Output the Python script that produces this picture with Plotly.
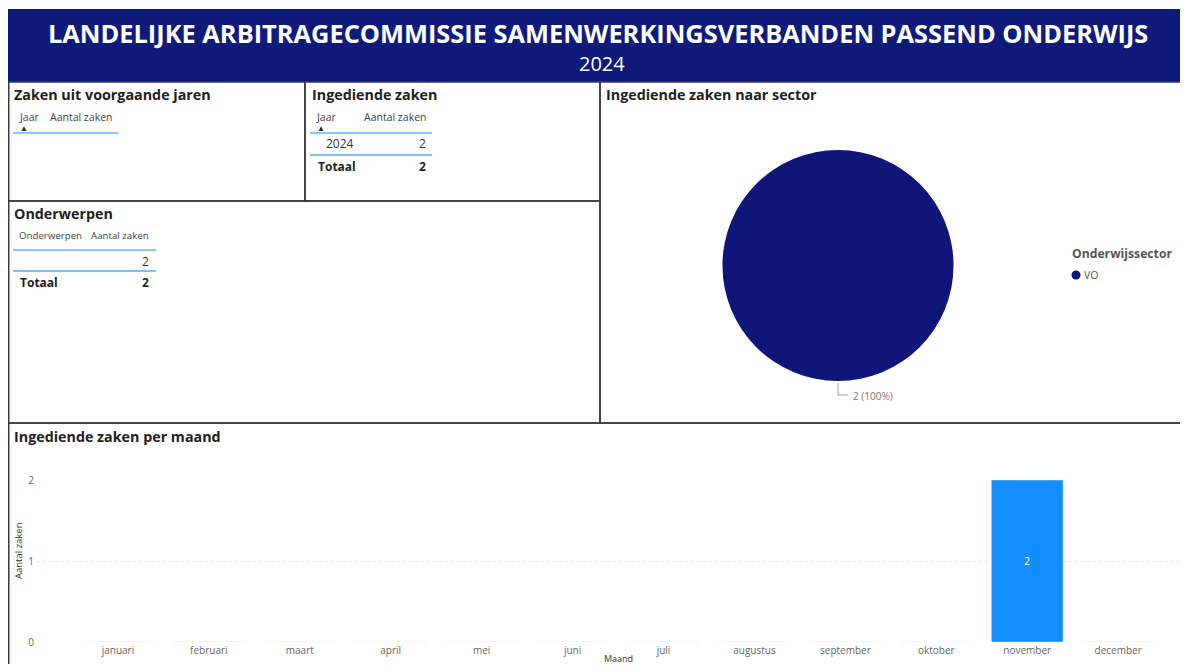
import plotly.graph_objects as go

# ---------------- data ----------------
maanden = ["januari", "februari", "maart", "april", "mei", "juni", "juli",
           "augustus", "september", "oktober", "november", "december"]
zaken_per_maand = [0, 0, 0, 0, 0, 0, 0, 0, 0, 0, 2, 0]

sectoren = ["VO"]
zaken_per_sector = [2]

ingediend_jaar = ["2024"]
ingediend_aantal = [2]

onderwerpen = [""]
onderwerpen_aantal = [2]

# The page body has an 8px margin, so the figure is sized to fit the window
OFF = 8
W, H = 1188 - 2 * OFF, 672 - 2 * OFF
FONT = "Open Sans"
NAVY = "#10157a"
BLUE = "#118dff"


def px(x):
    return (x - OFF) / W


def py(y):
    return 1 - (y - OFF) / H


fig = go.Figure()

# bar chart
fig.add_trace(go.Bar(
    x=maanden, y=zaken_per_maand, marker_color=BLUE, width=0.79,
    text=[str(v) if v else "" for v in zaken_per_maand],
    textposition="inside", insidetextanchor="middle",
    textfont=dict(color="white", size=10, family=FONT),
    showlegend=False, hoverinfo="x+y"))

# pie chart
fig.add_trace(go.Pie(
    labels=sectoren, values=zaken_per_sector, marker=dict(colors=[NAVY]),
    textinfo="none", sort=False, showlegend=False,
    domain=dict(x=[px(722), px(954)], y=[py(381), py(150)])))

shapes = []
ann = []

# banner
shapes.append(dict(type="rect", xref="paper", yref="paper",
                   x0=px(7), x1=px(1190), y0=py(82), y1=py(9),
                   fillcolor="#0f1b7b", line=dict(width=0), layer="below"))
ann.append(dict(x=px(598), y=py(33), xref="paper", yref="paper",
                text="<b>LANDELIJKE ARBITRAGECOMMISSIE SAMENWERKINGSVERBANDEN PASSEND ONDERWIJS</b>",
                showarrow=False, font=dict(family=FONT, size=25.4, color="white"),
                xanchor="center", yanchor="middle"))
ann.append(dict(x=px(602), y=py(64), xref="paper", yref="paper", text="2024",
                showarrow=False, font=dict(family=FONT, size=20, color="white"),
                xanchor="center", yanchor="middle"))

# panel borders
BORDER = dict(color="#3a3a3a", width=1.5)
for (x0, y0, x1, y1) in [(8.75, 82, 305, 201), (305, 82, 600, 201),
                         (8.75, 201, 600, 423), (600, 82, 1192, 423),
                         (8.75, 423, 1192, 680)]:
    shapes.append(dict(type="rect", xref="paper", yref="paper",
                       x0=px(x0), x1=px(x1), y0=py(y1), y1=py(y0),
                       line=BORDER, fillcolor="rgba(0,0,0,0)", layer="below"))


def text(x, y, s, size=11, color="#333333", bold=False, anchor="left"):
    ann.append(dict(x=px(x), y=py(y), xref="paper", yref="paper",
                    text=f"<b>{s}</b>" if bold else s, showarrow=False,
                    font=dict(family=FONT, size=size, color=color),
                    xanchor=anchor, yanchor="middle"))


def hline(x0, x1, y, color=BLUE, width=1.2):
    shapes.append(dict(type="line", xref="paper", yref="paper",
                       x0=px(x0), x1=px(x1), y0=py(y), y1=py(y),
                       line=dict(color=color, width=width)))


# panel titles
text(12, 95, "Zaken uit voorgaande jaren", 14.3, "#222222", True)
text(310, 95, "Ingediende zaken", 14.3, "#222222", True)
text(12, 213, "Onderwerpen", 14.3, "#222222", True)
text(604, 95, "Ingediende zaken naar sector", 14.3, "#222222", True)
text(12, 436, "Ingediende zaken per maand", 14.3, "#222222", True)

# table 1 (empty)
text(17, 117, "Jaar", 10.5, "#444444")
text(48, 117, "Aantal zaken", 10.5, "#444444")
text(18, 127, "▲", 8, "#222222")
hline(13, 118, 133)

# table 2
text(314, 117, "Jaar", 10.5, "#444444")
text(428, 117, "Aantal zaken", 10.5, "#444444", anchor="right")
text(315, 127, "▲", 8, "#222222")
hline(310, 432, 133)
for i, (j, a) in enumerate(zip(ingediend_jaar, ingediend_aantal)):
    text(324, 144 + 22 * i, j, 12, "#333333")
    text(428, 144 + 22 * i, str(a), 12, "#333333", anchor="right")
hline(310, 432, 155, color="#7fbfff", width=2)
text(316, 166, "Totaal", 12, "#222222", True)
text(428, 166, str(sum(ingediend_aantal)), 12, "#222222", True, anchor="right")

# table 3
text(17, 236, "Onderwerpen", 9.7, "#444444")
text(151, 236, "Aantal zaken", 9.7, "#444444", anchor="right")
hline(13, 156, 250)
for i, (o, a) in enumerate(zip(onderwerpen, onderwerpen_aantal)):
    if o:
        text(19, 261 + 22 * i, o, 12, "#333333")
    text(151, 261 + 22 * i, str(a), 12, "#333333", anchor="right")
hline(13, 156, 271, color="#7fbfff", width=2)
text(18, 282, "Totaal", 12, "#222222", True)
text(151, 282, str(sum(onderwerpen_aantal)), 12, "#222222", True, anchor="right")

# pie label with leader line
total = sum(zaken_per_sector)
shapes.append(dict(type="path", xref="paper", yref="paper",
                   path=f"M {px(838)} {py(383)} L {px(838)} {py(395)} L {px(848)} {py(395)}",
                   line=dict(color="#999999", width=1)))
text(851, 396, f"{zaken_per_sector[0]} ({zaken_per_sector[0] / total:.0%})", 10, "#777777")

# legend (drawn by hand so the marker is a dot right next to the label)
text(1070, 253, "Onderwijssector", 12.2, "#555555", True)
shapes.append(dict(type="circle", xref="paper", yref="paper",
                   x0=px(1071.5), x1=px(1080.5), y0=py(279.5), y1=py(270.5),
                   fillcolor=NAVY, line=dict(width=0)))
text(1082, 275, sectoren[0], 10.5, "#555555")

# bar axis titles
ann.append(dict(x=px(18), y=py(551), xref="paper", yref="paper", text="Aantal zaken",
                showarrow=False, textangle=-90,
                font=dict(family=FONT, size=9.5, color="#333333"),
                xanchor="center", yanchor="middle"))
text(618, 658.5, "Maand", 9, "#333333", anchor="center")

fig.update_layout(
    width=W, height=H,
    margin=dict(l=0, r=0, t=0, b=0, autoexpand=False),
    paper_bgcolor="white", plot_bgcolor="white",
    font=dict(family=FONT),
    shapes=shapes, annotations=ann,
    showlegend=False,
    xaxis=dict(domain=[px(37), 1.0], range=[-0.89, 11.68], automargin=False,
               showgrid=False, zeroline=False, showline=False, ticks="",
               tickfont=dict(family=FONT, size=10, color="#666666"),
               ticklabelstandoff=1, fixedrange=True),
    yaxis=dict(domain=[py(642), py(480)], range=[0, 2], tickvals=[0, 1, 2],
               automargin=False,
               showgrid=True, gridcolor="#e3e3e3", griddash="dot", gridwidth=1,
               zeroline=False, showline=False, ticks="",
               tickfont=dict(family=FONT, size=10, color="#666666"),
               ticklabelstandoff=2, fixedrange=True),
)

fig.write_html("out.html")
